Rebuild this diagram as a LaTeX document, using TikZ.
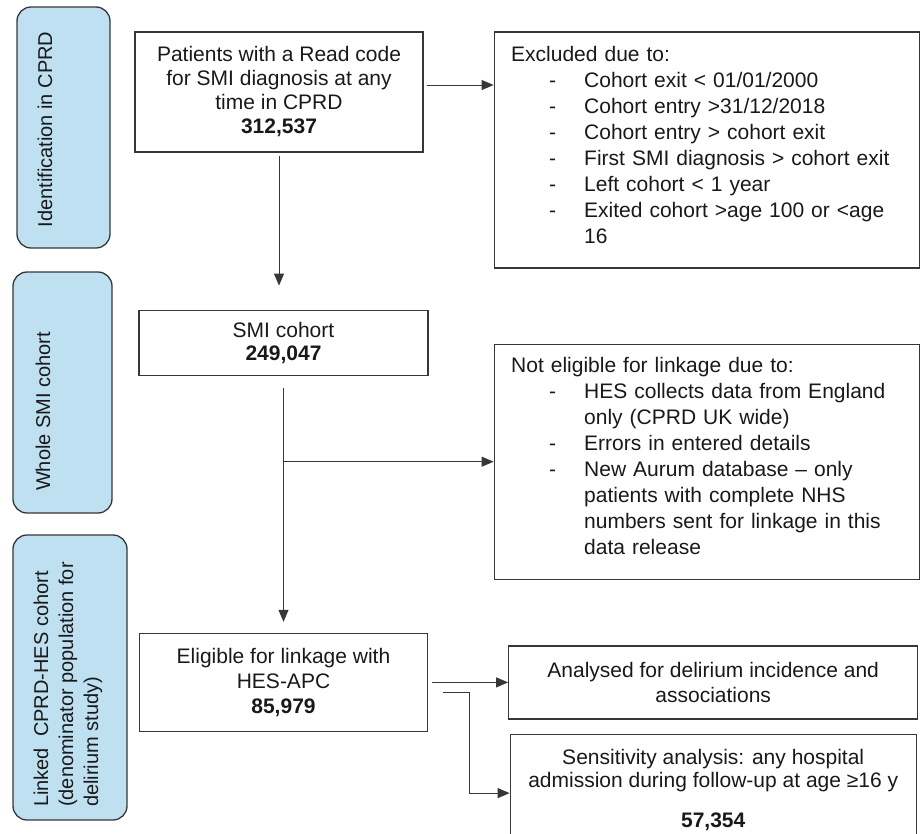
\documentclass[tikz,border=0pt]{standalone}
\usepackage{fontspec}
\setmainfont{Liberation Sans}
\usepackage{xcolor}
\usetikzlibrary{arrows.meta,positioning}
\definecolor{bandblue}{RGB}{190,224,241}
\definecolor{linegray}{RGB}{55,55,55}
\newcommand{\dashitem}[1]{\\\hspace*{38pt}\makebox[35pt][l]{-}#1}
\newcommand{\dashmore}[1]{\\\hspace*{73pt}#1}

\begin{document}
\begin{tikzpicture}[
  x=1pt, y=-1pt,
  box/.style={draw=linegray, line width=1.2pt, align=center, inner sep=0pt, text=black!90, font=\fontsize{21}{24}\selectfont},
  listbox/.style={draw=linegray, line width=1.2pt, align=left, inner xsep=17pt, text width=391pt, minimum height=236pt, text=black!90, font=\fontsize{21}{26}\selectfont},
  band/.style={draw=linegray, line width=1.3pt, rounded corners=14pt, fill=bandblue},
  bandlbl/.style={rotate=90, inner sep=0pt, align=left, text=black!90, font=\fontsize{20}{25}\selectfont},
  arr/.style={-{Triangle[length=12pt,width=10pt]}, line width=1pt, draw=linegray}
]
\useasboundingbox (0,0) rectangle (920,833);
\node[band, minimum width=93pt, minimum height=241pt] (band1) at (63.5,127.5) {};
\node[band, minimum width=99pt, minimum height=241pt] (band2) at (62.5,392.5) {};
\node[band, minimum width=114pt, minimum height=285pt] (band3) at (70,677.5) {};
\node[bandlbl] (lbl1) at (45,129.5) {Identification in CPRD};
\node[bandlbl] (lbl2) at (43,411.5) {Whole SMI cohort};
\node[bandlbl, anchor=west] (lbl3) at (68,807) {Linked~~CPRD-HES cohort\\(denominator population for\\delirium study)};

\node[box, minimum width=288pt, minimum height=120pt] (patients) at (279,92) {Patients with a Read code\\for SMI diagnosis at any\\time in CPRD\\\textbf{312,537}};
\node[listbox, anchor=north west] (excluded) at ([xshift=70pt]patients.north east) {Excluded due to:
  \dashitem{Cohort exit < 01/01/2000}
  \dashitem{Cohort entry >31/12/2018}
  \dashitem{Cohort entry > cohort exit}
  \dashitem{First SMI diagnosis > cohort exit}
  \dashitem{Left cohort < 1 year}
  \dashitem{Exited cohort >age 100 or <age}
  \dashmore{16}\\[-16pt]\mbox{}};
\node[box, minimum width=289pt, minimum height=65pt, below=157pt of patients, xshift=4.5pt, font=\fontsize{21}{23}\selectfont] (smi) {SMI cohort\\\textbf{249,047}};
\node[listbox, minimum height=235pt, below=75pt of excluded] (nonelig) {Not eligible for linkage due to:
  \dashitem{HES collects data from England}
  \dashmore{only (CPRD UK wide)}
  \dashitem{Errors in entered details}
  \dashitem{New Aurum database -- only}
  \dashmore{patients with complete NHS}
  \dashmore{numbers sent for linkage in this}
  \dashmore{data release}\\[-14pt]\mbox{}};
\node[box, minimum width=288pt, minimum height=98pt, below=257pt of smi, font=\fontsize{21}{25}\selectfont] (eligible) {Eligible for linkage with\\HES-APC\\\textbf{85,979}};
\node[box, minimum width=409pt, minimum height=73pt, right=80pt of eligible, font=\fontsize{21}{25}\selectfont] (analysed) {Analysed for delirium incidence and\\associations};
\node[box, minimum width=406pt, minimum height=112pt, below=14pt of analysed, font=\fontsize{21}{23}\selectfont] (sens) {Sensitivity analysis: any hospital\\admission during follow-up at age ≥16 y\\[17pt]\textbf{57,354}};

\draw[arr, shorten <=3pt] ([yshift=7pt]patients.east) -- ([yshift=7pt]patients.east -| excluded.west);
\draw[arr, shorten <=3pt, shorten >=24pt] (patients.south) -- (patients.south |- smi.north);
\draw[arr, shorten <=12pt, shorten >=11pt] (smi.south) -- (eligible.north);
\coordinate (split) at (smi.south |- nonelig.west);
\draw[arr] (split) -- (nonelig.west);
\draw[arr, shorten <=4pt] (eligible.east |- analysed.west) -- (analysed.west);
\draw[arr] ([xshift=15pt,yshift=-10pt]eligible.east) -| ([xshift=-40pt,yshift=-3pt]sens.west) -- ([yshift=-3pt]sens.west);
\end{tikzpicture}
\end{document}
